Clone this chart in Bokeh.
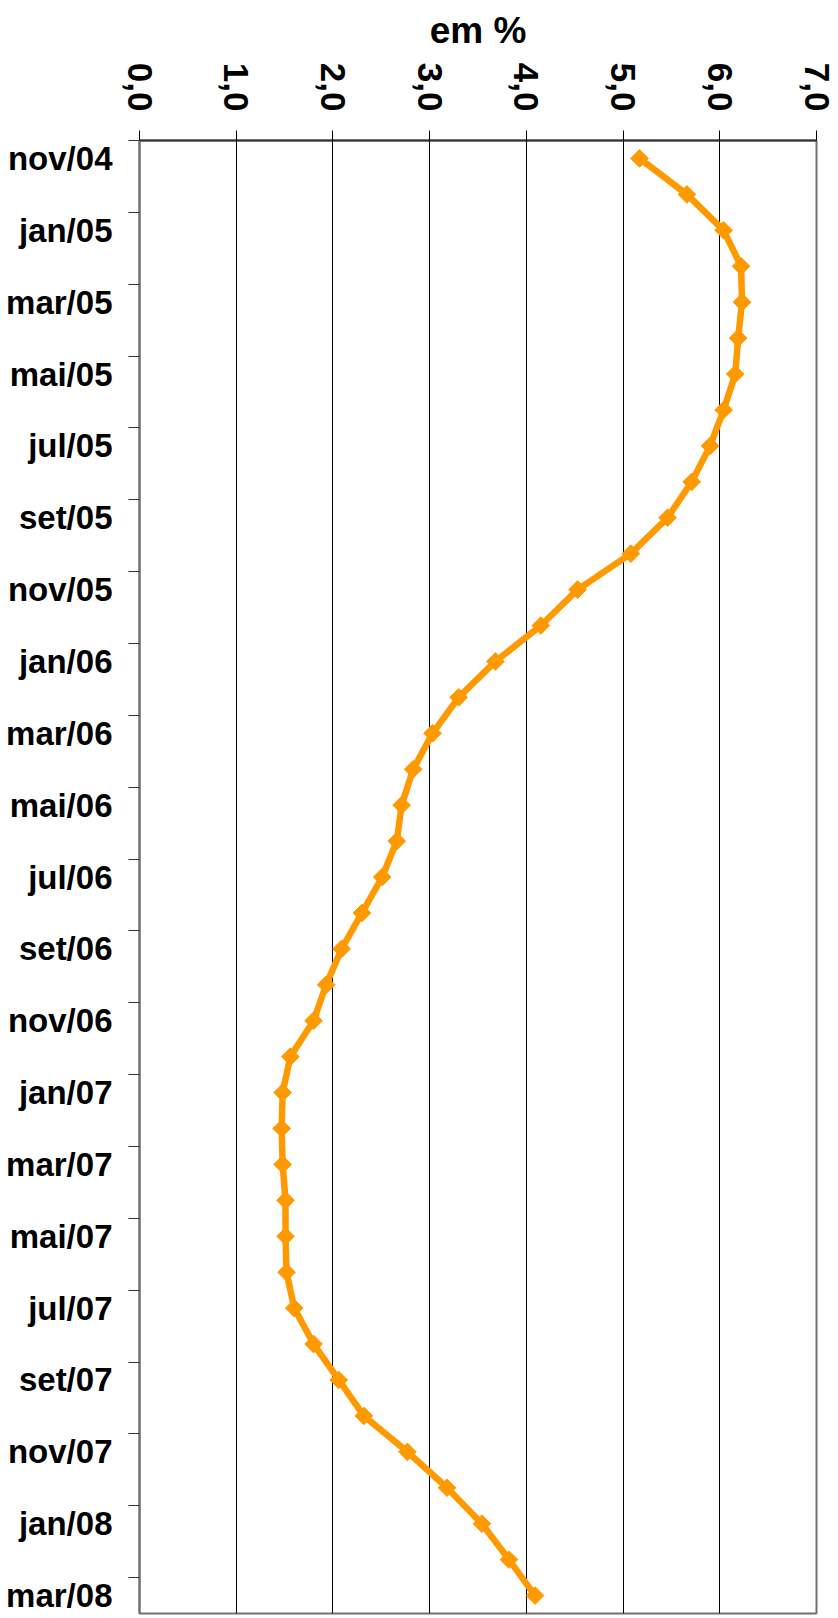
import math
from bokeh.plotting import figure
from bokeh.models import Range1d, FixedTicker
from bokeh.embed import file_html
from bokeh.resources import INLINE

# ---- data ----
months = [
    "nov/04", "dez/04",
    "jan/05", "fev/05", "mar/05", "abr/05", "mai/05", "jun/05",
    "jul/05", "ago/05", "set/05", "out/05", "nov/05", "dez/05",
    "jan/06", "fev/06", "mar/06", "abr/06", "mai/06", "jun/06",
    "jul/06", "ago/06", "set/06", "out/06", "nov/06", "dez/06",
    "jan/07", "fev/07", "mar/07", "abr/07", "mai/07", "jun/07",
    "jul/07", "ago/07", "set/07", "out/07", "nov/07", "dez/07",
    "jan/08", "fev/08", "mar/08",
]
values = [
    5.17, 5.66,
    6.04, 6.22, 6.23, 6.19, 6.16, 6.04, 5.90, 5.71, 5.46, 5.08, 4.53, 4.15,
    3.68, 3.30, 3.03, 2.83, 2.71, 2.66, 2.51, 2.30, 2.09, 1.93, 1.80, 1.56,
    1.48, 1.47, 1.48, 1.51, 1.51, 1.52, 1.60, 1.80, 2.06, 2.32, 2.77, 3.18,
    3.54, 3.82, 4.09,
]
x_ticks = [0, 1, 2, 3, 4, 5, 6, 7]
x_tick_labels = ["0,0", "1,0", "2,0", "3,0", "4,0", "5,0", "6,0", "7,0"]
axis_title = "em %"

FONT = "Liberation Sans"
n = len(months)
ypos = [i + 0.5 for i in range(n)]  # category centres on an index scale

p = figure(
    width=838, height=1618,
    x_range=Range1d(0, 7), y_range=Range1d(n, 0),
    x_axis_location="above",
    output_backend="svg", toolbar_location=None, tools="",
    min_border_left=139, min_border_right=22,
    min_border_top=140, min_border_bottom=5,
    background_fill_color="white", border_fill_color="white",
)

# line + diamond markers
p.line(values, ypos, line_color="#FF9900", line_width=6.5, line_join="round")
p.scatter(values, ypos, marker="square", angle=math.pi / 4, size=12.5,
          fill_color="#FF9900", line_color="#FF9900")

# ---- x axis (top) ----
xa = p.xaxis[0]
xa.ticker = FixedTicker(ticks=x_ticks)
xa.major_label_overrides = {t: l for t, l in zip(x_ticks, x_tick_labels)}
xa.major_label_orientation = -math.pi / 2
xa.major_label_text_font = FONT
xa.major_label_text_font_style = "bold"
xa.major_label_text_font_size = "35px"
xa.major_label_text_color = "black"
xa.major_label_standoff = 19
xa.major_tick_out = 10
xa.major_tick_in = 0
xa.major_tick_line_color = "black"
xa.minor_tick_line_color = None
xa.axis_line_color = "#333333"
xa.axis_line_width = 2
xa.axis_label = axis_title
xa.axis_label_text_font = FONT
xa.axis_label_text_font_style = "bold"
xa.axis_label_text_font_size = "37px"
xa.axis_label_text_color = "black"
xa.axis_label_standoff = 9

# ---- y axis (left) ----
label_idx = list(range(0, n, 2))
ya = p.yaxis[0]
ya.ticker = FixedTicker(ticks=[ypos[i] for i in label_idx],
                        minor_ticks=[float(i) for i in range(0, n, 2)])
ya.major_label_overrides = {ypos[i]: months[i] for i in label_idx}
ya.major_tick_out = 0
ya.major_tick_in = 0
ya.minor_tick_out = 11
ya.minor_tick_in = 0
ya.minor_tick_line_color = "#333333"
ya.minor_tick_line_width = 1
ya.axis_line_color = "#707070"
ya.axis_line_width = 2
ya.major_label_text_font = FONT
ya.major_label_text_font_style = "bold"
ya.major_label_text_font_size = "33px"
ya.major_label_text_color = "black"
ya.major_label_standoff = 16

# ---- grid / frame ----
p.xgrid.ticker = FixedTicker(ticks=x_ticks)
p.xgrid.grid_line_color = "black"
p.xgrid.grid_line_width = 1
p.ygrid.grid_line_color = None
p.outline_line_color = "#707070"
p.outline_line_width = 2

open("out.html", "w").write(file_html(p, INLINE))
